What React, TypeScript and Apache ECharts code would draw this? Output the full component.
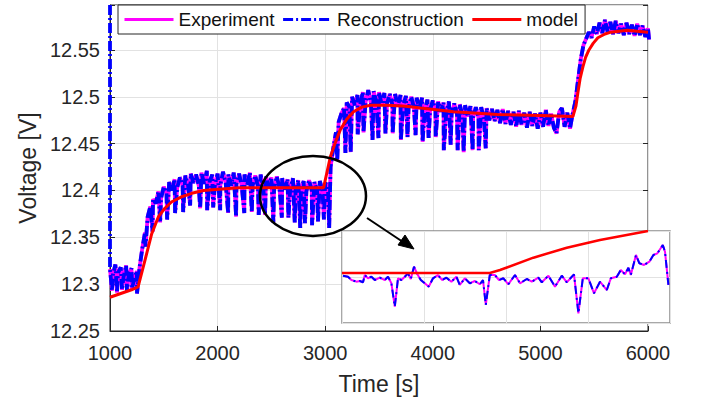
import { useEffect, useRef } from "react";
import * as echarts from "echarts";

// ---------- main plot data (time [s], voltage [V]) ----------
const expBand: [number, number][] = [
  [1000, 12.316], [1025, 12.309], [1050, 12.321], [1075, 12.312], [1100, 12.318], [1125, 12.307], [1150, 12.32], [1175, 12.311],
  [1200, 12.317], [1225, 12.306], [1250, 12.314], [1275, 12.318], [1300, 12.338], [1325, 12.355], [1350, 12.372], [1375, 12.383],
  [1400, 12.391], [1425, 12.386], [1450, 12.399], [1475, 12.392], [1500, 12.404], [1525, 12.397], [1550, 12.409], [1575, 12.4],
  [1600, 12.412], [1625, 12.403], [1650, 12.414], [1675, 12.405], [1700, 12.416], [1725, 12.406], [1750, 12.418], [1775, 12.408],
  [1800, 12.417], [1825, 12.405], [1850, 12.419], [1875, 12.407], [1900, 12.421], [1925, 12.409], [1950, 12.417], [1975, 12.406],
  [2000, 12.418], [2025, 12.405], [2050, 12.42], [2075, 12.408], [2100, 12.417], [2125, 12.405], [2150, 12.419], [2175, 12.407],
  [2200, 12.418], [2225, 12.404], [2250, 12.417], [2275, 12.406], [2300, 12.419], [2325, 12.405], [2350, 12.416], [2375, 12.404],
  [2400, 12.417], [2425, 12.403], [2450, 12.415], [2475, 12.404], [2500, 12.414], [2525, 12.402], [2550, 12.415], [2575, 12.403],
  [2600, 12.413], [2625, 12.401], [2650, 12.412], [2675, 12.402], [2700, 12.413], [2725, 12.4], [2750, 12.411], [2775, 12.401],
  [2800, 12.41], [2825, 12.399], [2850, 12.411], [2875, 12.4], [2900, 12.409], [2925, 12.399], [2950, 12.41], [2975, 12.4],
  [3000, 12.408], [3025, 12.405], [3050, 12.425], [3075, 12.445], [3100, 12.462], [3125, 12.473], [3150, 12.482], [3175, 12.488],
  [3200, 12.494], [3225, 12.489], [3250, 12.5], [3275, 12.491], [3300, 12.502], [3325, 12.492], [3350, 12.505], [3375, 12.494],
  [3400, 12.507], [3425, 12.493], [3450, 12.506], [3475, 12.495], [3500, 12.505], [3525, 12.492], [3550, 12.504], [3575, 12.493],
  [3600, 12.503], [3625, 12.491], [3650, 12.503], [3675, 12.49], [3700, 12.502], [3725, 12.49], [3750, 12.501], [3775, 12.489],
  [3800, 12.5], [3825, 12.488], [3850, 12.499], [3875, 12.487], [3900, 12.499], [3925, 12.486], [3950, 12.497], [3975, 12.486],
  [4000, 12.496], [4025, 12.485], [4050, 12.495], [4075, 12.484], [4100, 12.494], [4125, 12.483], [4150, 12.495], [4175, 12.482],
  [4200, 12.493], [4225, 12.481], [4250, 12.492], [4275, 12.48], [4300, 12.491], [4325, 12.479], [4350, 12.49], [4375, 12.478],
  [4400, 12.489], [4425, 12.477], [4450, 12.489], [4475, 12.476], [4500, 12.488], [4525, 12.475], [4550, 12.487], [4575, 12.474],
  [4600, 12.486], [4625, 12.472], [4650, 12.487], [4675, 12.471], [4700, 12.485], [4725, 12.47], [4750, 12.484], [4775, 12.468],
  [4800, 12.485], [4825, 12.47], [4850, 12.483], [4875, 12.467], [4900, 12.484], [4925, 12.469], [4950, 12.482], [4975, 12.466],
  [5000, 12.483], [5025, 12.468], [5050, 12.486], [5075, 12.469], [5100, 12.482], [5125, 12.467], [5150, 12.461], [5175, 12.484],
  [5200, 12.488], [5225, 12.468], [5250, 12.483], [5275, 12.466], [5300, 12.482], [5325, 12.495], [5350, 12.518], [5375, 12.54],
  [5400, 12.555], [5425, 12.562], [5450, 12.569], [5475, 12.563], [5500, 12.575], [5525, 12.567], [5550, 12.579], [5575, 12.568],
  [5600, 12.582], [5625, 12.569], [5650, 12.58], [5675, 12.567], [5700, 12.581], [5725, 12.568], [5750, 12.578], [5775, 12.566],
  [5800, 12.579], [5825, 12.567], [5850, 12.577], [5875, 12.565], [5900, 12.578], [5925, 12.566], [5950, 12.576], [5975, 12.564],
  [6000, 12.573], [6010, 12.561],
];

// downward load pulses (time, lowest voltage)
const expDips: [number, number][] = [
  [1019, 12.293], [1065, 12.291], [1112, 12.294], [1158, 12.292], [1205, 12.295], [1251, 12.29],
  [1330, 12.34], [1395, 12.356], [1466, 12.366], [1531, 12.369], [1605, 12.376], [1680, 12.377], [1745, 12.384],
  [1838, 12.381], [1903, 12.379], [1959, 12.382], [2024, 12.379], [2098, 12.376], [2172, 12.372], [2248, 12.376],
  [2318, 12.377], [2382, 12.374], [2441, 12.374], [2518, 12.366], [2597, 12.371], [2658, 12.371], [2717, 12.366],
  [2768, 12.36], [2812, 12.365], [2878, 12.363], [2933, 12.367], [2988, 12.369], [3037, 12.36],
  [3112, 12.432], [3188, 12.44], [3237, 12.441], [3302, 12.46], [3356, 12.462], [3440, 12.454], [3495, 12.456],
  [3560, 12.461], [3627, 12.461], [3703, 12.454], [3765, 12.457], [3840, 12.459], [3905, 12.452], [3961, 12.456],
  [4027, 12.457], [4102, 12.443], [4166, 12.449], [4231, 12.443], [4287, 12.441], [4370, 12.443], [4427, 12.443],
  [4492, 12.445],
];

// initial transient of the reconstruction (runs off the top of the axes)
const reconStart: [number, number][] = [[1000, 12.598]];

const modelData: [number, number][] = [
  [1000, 12.286], [1100, 12.29], [1200, 12.294], [1261, 12.297], [1326, 12.326], [1388, 12.354], [1450, 12.372],
  [1510, 12.381], [1574, 12.388], [1660, 12.393], [1760, 12.397], [1870, 12.4], [1978, 12.401], [2200, 12.403],
  [2500, 12.403], [2800, 12.403], [2985, 12.403], [3048, 12.436], [3100, 12.453], [3141, 12.465], [3200, 12.476],
  [3263, 12.484], [3340, 12.489], [3421, 12.491], [3579, 12.491], [3750, 12.49], [3886, 12.488], [4194, 12.484],
  [4603, 12.481], [5000, 12.48], [5302, 12.479], [5330, 12.49], [5348, 12.504], [5370, 12.52], [5395, 12.532],
  [5420, 12.542], [5451, 12.55], [5490, 12.557], [5534, 12.563], [5600, 12.567], [5655, 12.569], [5730, 12.57],
  [5810, 12.571], [5900, 12.57], [6000, 12.569],
];

// ---------- inset (zoom of the encircled region) ----------
const insetMeasured: [number, number][] = [
  [2911.5, 12.40217], [2914, 12.40204], [2915.7, 12.40161], [2918.2, 12.40139], [2919.9, 12.40148], [2921.5, 12.40131],
  [2922.4, 12.40226], [2924, 12.40183], [2925.7, 12.40204], [2927.4, 12.40161], [2929.9, 12.40191], [2932.4, 12.40161],
  [2934, 12.40204], [2935.7, 12.40118], [2937.4, 12.39813], [2939, 12.40183], [2940.7, 12.40161], [2942.4, 12.40204],
  [2944, 12.40248], [2945.4, 12.40174], [2947, 12.40334], [2948.7, 12.40235], [2950.4, 12.40161], [2952.4, 12.40118],
  [2954.4, 12.40074], [2956.5, 12.40183], [2959, 12.40226], [2961, 12.40161], [2963.2, 12.40191], [2965.7, 12.40139],
  [2968.2, 12.40204], [2969.9, 12.40096], [2972.4, 12.40183], [2974.9, 12.40118], [2977.4, 12.40148], [2979.9, 12.40105],
  [2981.5, 12.40161], [2982.9, 12.39835], [2984.9, 12.40226], [2987.4, 12.40226], [2989.5, 12.40161], [2991.7, 12.40183],
  [2994.2, 12.40105], [2997.5, 12.40226], [3000, 12.40118], [3003.4, 12.40174], [3005.9, 12.40139], [3009.2, 12.40191],
  [3010.9, 12.40131], [3014.2, 12.40217], [3017.5, 12.40074], [3020.9, 12.40217], [3023.4, 12.40131], [3027, 12.40235],
  [3029.2, 12.39727], [3031.4, 12.40183], [3034.2, 12.40183], [3037, 12.39987], [3040, 12.40139], [3043.4, 12.4003],
  [3045.4, 12.40183], [3048.4, 12.40204], [3050.4, 12.40291], [3052.5, 12.40235], [3054.2, 12.40321], [3055.4, 12.40226],
  [3058, 12.40487], [3059.7, 12.40379], [3062, 12.40357], [3064.7, 12.404], [3066.7, 12.40487], [3068.7, 12.40509],
  [3071.4, 12.40617], [3072.5, 12.4053], [3074.2, 12.40096],
];
const insetModel: [number, number][] = [
  [2911, 12.40252], [2984.9, 12.40252], [2990, 12.40291], [3006.7, 12.40452], [3023.4, 12.40582], [3040, 12.40683], [3064, 12.408],
];

const FONT = "'Liberation Sans', Arial, Helvetica, sans-serif";
const AXIS = "#262626";
const GRID = "#e2e2e2";
const MAGENTA = "#ff00ff";
const BLUE = "#0000ff";
const RED = "#ff0000";
const DASHDOT = [10, 3, 2, 3];

function buildOption() {
  const measured = [...expBand, ...expDips].sort((a, b) => a[0] - b[0]);
  const recon = [...reconStart, ...measured];
  return {
    animation: false,
    backgroundColor: "#ffffff",
    textStyle: { fontFamily: FONT },
    grid: [
      { left: 110, top: 5, right: 61, bottom: 69, show: true, borderColor: AXIS, borderWidth: 1, backgroundColor: "transparent" },
      { left: 342, top: 231, width: 328, height: 92, show: true, borderColor: "#8c8c8c", borderWidth: 1.5, backgroundColor: "#ffffff", z: 10 },
    ],
    legend: {
      data: ["Experiment", "Reconstruction", "model"],
      left: 118,
      top: 5,
      orient: "horizontal",
      padding: [5, 7, 5, 5],
      itemGap: 7,
      itemWidth: 49,
      itemHeight: 19,
      backgroundColor: "#ffffff",
      borderColor: AXIS,
      borderWidth: 1,
      itemStyle: { opacity: 0 },
      lineStyle: { width: 3 },
      textStyle: { fontSize: 19, color: "#111", fontFamily: FONT },
      z: 20,
    },
    xAxis: [
      {
        type: "value", gridIndex: 0, min: 1000, max: 6000, interval: 1000,
        name: "Time [s]", nameLocation: "middle", nameGap: 41,
        nameTextStyle: { fontSize: 23, color: AXIS, fontFamily: FONT },
        axisLine: { show: true, lineStyle: { color: AXIS, width: 1 } },
        axisTick: { show: true, inside: true, length: 5, lineStyle: { color: AXIS } },
        axisLabel: { fontSize: 20, color: AXIS, margin: 12, fontFamily: FONT, formatter: (v: number) => String(Math.round(v)) },
        splitLine: { show: true, lineStyle: { color: GRID, width: 1 } },
      },
      {
        type: "value", gridIndex: 1, min: 2911, max: 3075, interval: 41,
        axisLine: { show: false }, axisTick: { show: false }, axisLabel: { show: false },
        splitLine: { show: true, lineStyle: { color: GRID, width: 1 } }, z: 11,
      },
    ],
    yAxis: [
      {
        type: "value", gridIndex: 0, min: 12.25, max: 12.598, interval: 0.05,
        name: "Voltage [V]", nameLocation: "middle", nameGap: 70,
        nameTextStyle: { fontSize: 23, color: AXIS, fontFamily: FONT },
        axisLine: { show: true, lineStyle: { color: AXIS, width: 1 } },
        axisTick: { show: true, inside: true, length: 5, lineStyle: { color: AXIS } },
        axisLabel: {
          fontSize: 20, color: AXIS, margin: 10, fontFamily: FONT,
          formatter: (v: number) => (v > 12.575 ? "" : String(+v.toFixed(2))),
        },
        splitLine: { show: true, lineStyle: { color: GRID, width: 1 } },
      },
      {
        type: "value", gridIndex: 0, position: "right", min: 12.25, max: 12.598, interval: 0.05,
        axisLine: { show: false }, axisLabel: { show: false }, splitLine: { show: false },
        axisTick: { show: true, inside: true, length: 5, lineStyle: { color: AXIS } },
      },
      {
        type: "value", gridIndex: 1, min: 12.396, max: 12.408, interval: 0.006,
        axisLine: { show: false }, axisTick: { show: false }, axisLabel: { show: false },
        splitLine: { show: true, lineStyle: { color: GRID, width: 1 } }, z: 11,
      },
    ],
    series: [
      {
        name: "Experiment", type: "line", xAxisIndex: 0, yAxisIndex: 0, data: measured,
        symbol: "none", showSymbol: false, z: 2,
        lineStyle: { color: MAGENTA, width: 3.8 }, itemStyle: { color: MAGENTA },
      },
      {
        name: "Reconstruction", type: "line", xAxisIndex: 0, yAxisIndex: 0, data: recon,
        symbol: "none", showSymbol: false, clip: false, z: 3,
        lineStyle: { color: BLUE, width: 3.8, type: DASHDOT }, itemStyle: { color: BLUE },
      },
      {
        name: "model", type: "line", xAxisIndex: 0, yAxisIndex: 0, data: modelData,
        symbol: "none", showSymbol: false, z: 4,
        lineStyle: { color: RED, width: 3 }, itemStyle: { color: RED },
      },
      {
        name: "inset-experiment", type: "line", xAxisIndex: 1, yAxisIndex: 2, data: insetMeasured,
        symbol: "none", showSymbol: false, z: 12,
        lineStyle: { color: MAGENTA, width: 2 },
      },
      {
        name: "inset-reconstruction", type: "line", xAxisIndex: 1, yAxisIndex: 2, data: insetMeasured,
        symbol: "none", showSymbol: false, z: 13,
        lineStyle: { color: BLUE, width: 2, type: [8, 4, 2, 4] },
      },
      {
        name: "inset-model", type: "line", xAxisIndex: 1, yAxisIndex: 2, data: insetModel,
        symbol: "none", showSymbol: false, z: 14,
        lineStyle: { color: RED, width: 2.5 },
      },
    ],
    graphic: [
      {
        type: "ellipse", z: 30, silent: true,
        shape: { cx: 313, cy: 196, rx: 53, ry: 40 },
        style: { fill: "none", stroke: "#000", lineWidth: 2.5 },
      },
      {
        type: "line", z: 30, silent: true,
        shape: { x1: 367, y1: 218, x2: 403, y2: 242 },
        style: { stroke: "#000", lineWidth: 2 },
      },
      {
        type: "polygon", z: 30, silent: true,
        shape: { points: [[414, 249], [398, 245], [405, 235]] },
        style: { fill: "#000", stroke: "#000", lineWidth: 1 },
      },
    ],
  };
}

export default function App() {
  const ref = useRef<HTMLDivElement>(null);
  useEffect(() => {
    if (!ref.current) return;
    const chart = echarts.init(ref.current, null, { renderer: "svg" });
    chart.setOption(buildOption() as any);
    return () => chart.dispose();
  }, []);
  return <div ref={ref} style={{ position: "fixed", left: 0, top: 0, width: 709, height: 400, background: "#fff" }} />;
}
